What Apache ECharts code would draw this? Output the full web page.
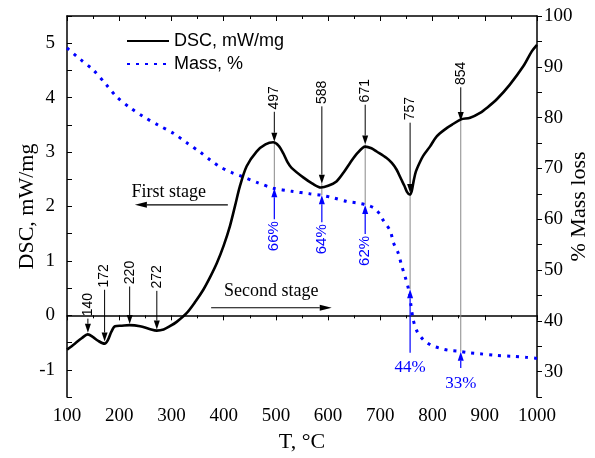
<!DOCTYPE html>
<html>
<head>
<meta charset="utf-8">
<script src="https://cdn.jsdelivr.net/npm/echarts@6/dist/echarts.min.js"></script>
<style>
  html, body { margin: 0; padding: 0; background: #fff; }
  #main { width: 595px; height: 458px; }
</style>
</head>
<body>
<div id="main"></div>
<script>
// DSC curve
const dscTemps = [100, 115, 128, 140, 150, 160, 172, 178, 185, 192, 205, 220, 240, 258, 272, 285, 297, 310,
  329, 345, 361, 375, 387, 400, 412, 422, 431, 444, 463, 480, 495, 505, 514, 522, 530, 553, 570, 586,
  600, 616, 630, 642, 656, 671, 683, 693, 712, 722, 731, 740, 746, 751, 756, 760, 764, 768, 775, 782, 795,
  808, 827, 840, 854, 872, 891, 905, 923, 948, 974, 990, 1000];
const dscValues = [-0.63, -0.52, -0.42, -0.35, -0.40, -0.47, -0.52, -0.46, -0.30, -0.20, -0.19, -0.18, -0.20, -0.25, -0.28, -0.26, -0.20, -0.12,
  0.04, 0.24, 0.47, 0.72, 0.96, 1.28, 1.64, 2.02, 2.37, 2.74, 3.01, 3.14, 3.18, 3.12, 2.98, 2.82, 2.71, 2.53, 2.42, 2.35,
  2.38, 2.46, 2.63, 2.80, 2.98, 3.10, 3.07, 3.01, 2.89, 2.80, 2.68, 2.50, 2.38, 2.27, 2.22, 2.28, 2.48, 2.64, 2.80, 2.93, 3.10,
  3.29, 3.44, 3.52, 3.60, 3.63, 3.72, 3.82, 3.97, 4.24, 4.58, 4.85, 4.97];

// mass curve
const massTemps = [100, 125, 150, 175, 195, 220, 246, 275, 304, 330, 355, 375, 393, 415, 438, 465, 495, 530, 565,
  588, 610, 636, 655, 673, 688, 699, 706, 719, 725, 734, 741, 748, 754, 758, 763, 770, 782, 797, 814, 830,
  849, 870, 891, 920, 955, 980, 1000];
const massValues = [93.7, 91.5, 89.4, 86.5, 84.1, 82.0, 80.2, 78.5, 76.9, 75.0, 73.2, 71.6, 70.3, 69.2, 68.3, 67.2, 66.1, 65.5, 65.0,
  64.7, 64.2, 63.5, 63.2, 62.8, 62.2, 61.0, 59.7, 57.7, 55.4, 53.4, 50.8, 48.5, 46.2, 43.5, 40.2, 38.0, 36.3, 35.2, 34.6, 34.2,
  34.0, 33.7, 33.5, 33.2, 33.0, 32.8, 32.6];

// peak annotations on the DSC curve (arrow from tail down to tip)
const peakTemps = [140, 172, 220, 272, 497, 588, 671, 757, 854];
const peakTips = [-0.32, -0.48, -0.16, -0.26, 3.19, 2.42, 3.14, 2.25, 3.57];
const peakTails = [-0.06, 0.47, 0.53, 0.45, 3.74, 3.84, 3.87, 3.54, 4.19];

// mass annotations (arrow from tail up to tip)
const lossTemps = [497, 588, 671, 757, 854];
const lossLabels = ['66%', '64%', '62%', '44%', '33%'];
const lossTips = [66.1, 64.7, 62.8, 46.2, 33.9];
const lossTails = [60.0, 59.4, 57.1, 33.7, 30.7];

// stage notes
const stageTexts = ['First stage', 'Second stage'];
const stageTextPos = [[295, 2.27], [491, 0.44]];
const stageArrowFrom = [[408, 2.03], [376, 0.14]];
const stageArrowTo = [[230, 2.03], [607, 0.14]];

const serif = 'Liberation Serif';
const sans = 'Liberation Sans';

var chartDom = document.getElementById('main');
var myChart = echarts.init(chartDom);
var option;

option = {
  animation: false,
  grid: { left: 67, right: 58, top: 16, bottom: 61, containLabel: false, outerBoundsMode: 'none' },
  legend: {
    orient: 'vertical',
    left: 121,
    top: 27,
    itemWidth: 42,
    itemHeight: 14,
    itemGap: 5,
    itemStyle: { opacity: 0 },
    textStyle: { fontFamily: sans, fontSize: 18, color: '#000' },
    data: ['DSC, mW/mg', 'Mass, %']
  },
  xAxis: [
    {
      type: 'value',
      min: 100,
      max: 1000,
      interval: 100,
      name: 'T, °C',
      nameLocation: 'middle',
      nameGap: 34,
      nameMoveOverlap: false,
      nameTextStyle: { fontFamily: serif, fontSize: 22, color: '#000' },
      axisLine: { lineStyle: { color: '#000', width: 1.5 } },
      axisTick: { inside: false, length: 5, lineStyle: { color: '#000' } },
      minorTick: { show: true, splitNumber: 2, length: 3, lineStyle: { color: '#000' } },
      axisLabel: { fontFamily: serif, fontSize: 19, color: '#000', margin: 10, formatter: (v) => String(v) },
      splitLine: { show: false }
    },
    {
      type: 'value',
      position: 'top',
      min: 100,
      max: 1000,
      interval: 100,
      axisLine: { lineStyle: { color: '#000', width: 1.5 } },
      axisTick: { inside: true, length: 5, lineStyle: { color: '#000' } },
      minorTick: { show: true, splitNumber: 2, length: 3, lineStyle: { color: '#000' } },
      axisLabel: { show: false },
      splitLine: { show: false }
    }
  ],
  yAxis: [
    {
      type: 'value',
      min: -1.5,
      max: 5.5,
      interval: 0.5,
      name: 'DSC, mW/mg',
      nameLocation: 'middle',
      nameGap: 29,
      nameMoveOverlap: false,
      nameTextStyle: { fontFamily: serif, fontSize: 22, color: '#000' },
      axisLine: { show: true, lineStyle: { color: '#000', width: 1.5 } },
      axisTick: { inside: true, length: 5, lineStyle: { color: '#000' } },
      axisLabel: {
        fontFamily: serif, fontSize: 19, color: '#000', margin: 12,
        formatter: (v) => (Number.isInteger(v) ? String(v) : '')
      },
      splitLine: { show: false }
    },
    {
      type: 'value',
      min: 25,
      max: 100,
      interval: 5,
      name: '% Mass loss',
      nameLocation: 'middle',
      nameGap: 31,
      nameRotate: 90,
      nameMoveOverlap: false,
      nameTextStyle: { fontFamily: serif, fontSize: 22, color: '#000' },
      axisLine: { show: true, lineStyle: { color: '#000', width: 1.5 } },
      axisTick: { inside: false, length: 5, lineStyle: { color: '#000' } },
      axisLabel: {
        fontFamily: serif, fontSize: 19, color: '#000', margin: 7,
        formatter: (v) => (v % 10 === 0 ? String(v) : '')
      },
      splitLine: { show: false }
    }
  ],
  series: [
    {
      name: 'DSC, mW/mg',
      type: 'line',
      symbol: 'none',
      smooth: 0.3,
      z: 4,
      lineStyle: { color: '#000', width: 2.6 },
      itemStyle: { color: '#000' },
      data: dscTemps.map((t, i) => [t, dscValues[i]])
    },
    {
      name: 'Mass, %',
      type: 'line',
      yAxisIndex: 1,
      symbol: 'none',
      smooth: 0.3,
      z: 3,
      lineStyle: { color: '#0000ff', width: 3, type: [3, 6] },
      itemStyle: { color: '#0000ff' },
      data: massTemps.map((t, i) => [t, massValues[i]])
    }
  ]
};
option && myChart.setOption(option);

// annotations, placed through the chart's own scales
const toPx = (t, v, yi) => myChart.convertToPixel({ xAxisIndex: 0, yAxisIndex: yi }, [t, v]);

function arrow(p1, p2, color, lw, hl, hw) {
  const dx = p2[0] - p1[0], dy = p2[1] - p1[1];
  const len = Math.hypot(dx, dy);
  const ux = dx / len, uy = dy / len;
  const bx = p2[0] - ux * hl, by = p2[1] - uy * hl;
  return [
    { type: 'line', z: 10, shape: { x1: p1[0], y1: p1[1], x2: bx, y2: by }, style: { stroke: color, lineWidth: lw } },
    {
      type: 'polygon', z: 10,
      shape: { points: [[p2[0], p2[1]], [bx - uy * hw / 2, by + ux * hw / 2], [bx + uy * hw / 2, by - ux * hw / 2]] },
      style: { fill: color }
    }
  ];
}

const graphics = [];

peakTemps.forEach((t, i) => {
  const tip = toPx(t, peakTips[i], 0);
  const tail = toPx(t, peakTails[i], 0);
  graphics.push(...arrow(tail, tip, '#000', 1, 9, 6));
  graphics.push({
    type: 'text', z: 10, x: tail[0], y: tail[1] - 14, rotation: Math.PI / 2,
    style: { text: String(t), font: '14px "Liberation Sans"', fill: '#000', align: 'center', verticalAlign: 'middle' }
  });
});

lossTemps.forEach((t, i) => {
  const tip = toPx(t, lossTips[i], 1);
  const tail = toPx(t, lossTails[i], 1);
  // thin grey guide from the DSC arrow to the mass point
  const k = peakTemps.indexOf(t);
  const top = toPx(t, peakTips[k], 0);
  graphics.push({
    type: 'line', z: 1, shape: { x1: top[0], y1: top[1], x2: tip[0], y2: tip[1] },
    style: { stroke: '#888', lineWidth: 1 }
  });
  graphics.push(...arrow(tail, tip, '#0000ff', 1.2, 9, 6));
  if (i < 3) {
    graphics.push({
      type: 'text', z: 10, x: tail[0], y: tail[1] + 17, rotation: Math.PI / 2,
      style: { text: lossLabels[i], font: '15px "Liberation Sans"', fill: '#0000ff', align: 'center', verticalAlign: 'middle' }
    });
  } else {
    graphics.push({
      type: 'text', z: 10, x: tail[0], y: tail[1] + 15,
      style: { text: lossLabels[i], font: '17px "Liberation Serif"', fill: '#0000ff', align: 'center', verticalAlign: 'middle' }
    });
  }
});

stageTexts.forEach((s, i) => {
  const p = toPx(stageTextPos[i][0], stageTextPos[i][1], 0);
  graphics.push({
    type: 'text', z: 10, x: p[0], y: p[1],
    style: { text: s, font: '18px "Liberation Serif"', fill: '#000', align: 'center', verticalAlign: 'middle' }
  });
  const a = toPx(stageArrowFrom[i][0], stageArrowFrom[i][1], 0);
  const b = toPx(stageArrowTo[i][0], stageArrowTo[i][1], 0);
  graphics.push(...arrow(a, b, '#000', 1.2, 12, 6));
});

myChart.setOption({ graphic: graphics });
</script>
</body>
</html>
